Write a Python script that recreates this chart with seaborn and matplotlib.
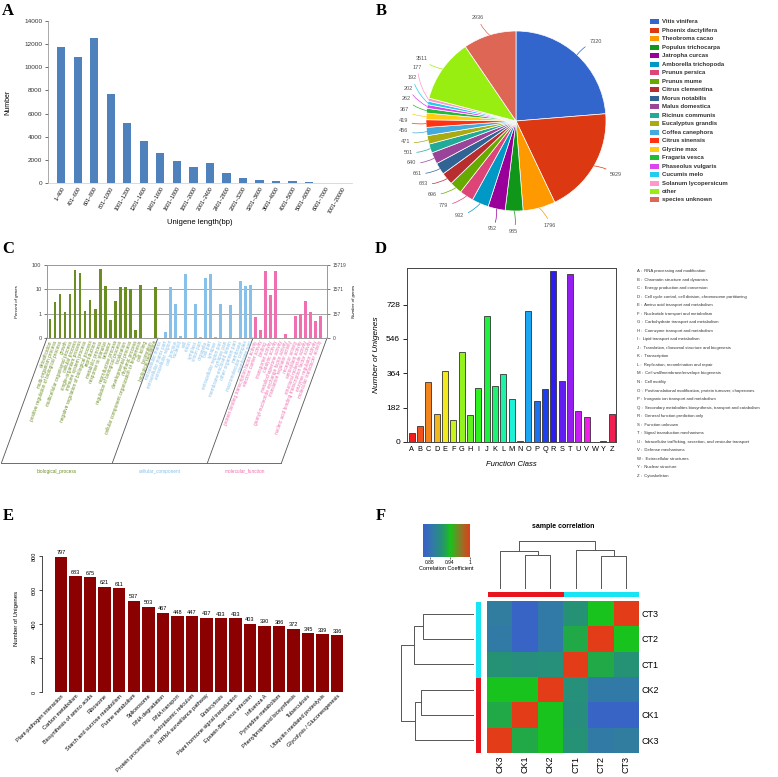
import numpy as np
import pandas as pd
import seaborn as sns
import matplotlib.pyplot as plt
import matplotlib.transforms as mtransforms
from matplotlib.colors import LinearSegmentedColormap, ListedColormap, hsv_to_rgb
from matplotlib.patches import Rectangle
from matplotlib.ticker import NullLocator

plt.rcParams['font.family'] = ['Liberation Sans', 'DejaVu Sans']

# ---------------- data ----------------
# A: unigene length distribution
length_bins = ['1~400', '401~600', '601~800', '801~1000', '1001~1200', '1201~1400',
               '1401~1600', '1601~1800', '1801~2000', '2001~2400', '2401~2800', '2801~3200',
               '3201~3600', '3601~4000', '4001~5000', '5001~6000', '6001~7000', '7001~20000']
length_counts = [11790, 10920, 12500, 7680, 5180, 3620, 2620, 1930, 1380, 1750, 890, 460,
                 290, 200, 140, 60, 30, 25]

# B: species distribution
species = ['Vitis vinifera', 'Phoenix dactylifera', 'Theobroma cacao', 'Populus trichocarpa',
           'Jatropha curcas', 'Amborella trichopoda', 'Prunus persica', 'Prunus mume',
           'Citrus clementina', 'Morus notabilis', 'Malus domestica', 'Ricinus communis',
           'Eucalyptus grandis', 'Coffea canephora', 'Citrus sinensis', 'Glycine max',
           'Fragaria vesca', 'Phaseolus vulgaris', 'Cucumis melo', 'Solanum lycopersicum',
           'other', 'species unknown']
species_counts = [7320, 5929, 1796, 985, 952, 932, 779, 696, 683, 661, 640, 501, 471, 456,
                  419, 367, 262, 202, 192, 177, 3511, 2936]
species_colors = ['#3366cc', '#dc3912', '#ff9900', '#109618', '#990099', '#0099c6', '#dd4477',
                  '#66aa00', '#b82e2e', '#316395', '#994499', '#22aa99', '#aaaa11', '#44aadd',
                  '#ff3311', '#ffcc11', '#22bb33', '#dd44ee', '#22ccee', '#ff99cc', '#99ee11',
                  '#dd6655']

# C: GO classification (percent of genes)
go_bp_terms = ['detoxification', 'multi-organism process', 'positive regulation of biological process',
               'growth', 'multicellular organismal process', 'cellular process',
               'single-organism process', 'immune system process',
               'negative regulation of biological process', 'reproduction', 'metabolic process',
               'response to stimulus', 'behavior', 'reproductive process',
               'regulation of biological process', 'localization', 'developmental process',
               'rhythmic process', 'cellular component organization or biogenesis', 'cell killing',
               'locomotion', 'biological regulation']
go_bp_pct = [0.62, 3.0, 6.6, 1.17, 6.6, 60, 47, 1.33, 3.5, 1.55, 69, 13.3, 0.57, 3.4, 12.5, 12.5,
             10, 0.22, 15.6, 0, 0, 12.5]
go_cc_terms = ['extracellular matrix', 'extracellular matrix part', 'extracellular region',
               'cell junction', 'nucleoid', 'cell', 'virion', 'symplast', 'virion part',
               'organelle', 'cell part', 'synapse', 'extracellular region part', 'synapse part',
               'membrane-enclosed lumen', 'other organism part', 'membrane',
               'macromolecular complex', 'membrane part']
go_cc_pct = [0, 0.18, 12.5, 2.6, 0.125, 43, 0, 2.6, 0.11, 29, 41, 0.11, 2.6, 0, 2.2, 0, 23, 14, 15.6]
go_mf_terms = ['protein binding transcription factor activity', 'electron carrier activity',
               'binding', 'transporter activity', 'catalytic activity', 'metallochaperone activity',
               'guanyl-nucleotide exchange factor activity', 'translation regulator activity',
               'receptor activity', 'antioxidant activity', 'structural molecule activity',
               'nucleic acid binding transcription factor activity', 'enzyme regulator activity',
               'molecular transducer activity']
go_mf_pct = [0.73, 0.22, 55, 6.0, 58, 0, 0.14, 0, 0.83, 1.0, 3.2, 1.13, 0.48, 0.78]
go_total = 15719

# D: COG function classes
cog_class = list('ABCDEFGHIJKLMNOPQRSTUVWYZ')
cog_counts = [49, 83, 316, 147, 375, 118, 479, 143, 286, 670, 299, 359, 226, 7, 694, 219, 281,
              905, 323, 889, 166, 134, 0, 4, 148]
cog_desc = ['RNA processing and modification', 'Chromatin structure and dynamics',
            'Energy production and conversion',
            'Cell cycle control, cell division, chromosome partitioning',
            'Amino acid transport and metabolism', 'Nucleotide transport and metabolism',
            'Carbohydrate transport and metabolism', 'Coenzyme transport and metabolism',
            'Lipid transport and metabolism', 'Translation, ribosomal structure and biogenesis',
            'Transcription', 'Replication, recombination and repair',
            'Cell wall/membrane/envelope biogenesis', 'Cell motility',
            'Posttranslational modification, protein turnover, chaperones',
            'Inorganic ion transport and metabolism',
            'Secondary metabolites biosynthesis, transport and catabolism',
            'General function prediction only', 'Function unknown',
            'Signal transduction mechanisms',
            'Intracellular trafficking, secretion, and vesicular transport',
            'Defense mechanisms', 'Extracellular structures', 'Nuclear structure', 'Cytoskeleton']

# E: top KEGG pathways
kegg_pathways = ['Plant-pathogen interaction', 'Carbon metabolism', 'Biosynthesis of amino acids',
                 'Ribosome', 'Starch and sucrose metabolism', 'Purine metabolism', 'Spliceosome',
                 'RNA degradation', 'RNA transport', 'Protein processing in endoplasmic reticulum',
                 'mRNA surveillance pathway', 'Endocytosis', 'Plant hormone signal transduction',
                 'Epstein-Barr virus infection', 'Influenza A', 'Pyrimidine metabolism',
                 'Phenylpropanoid biosynthesis', 'Tuberculosis', 'Ubiquitin mediated proteolysis',
                 'Glycolysis / Gluconeogenesis']
kegg_counts = [797, 683, 675, 621, 611, 537, 503, 467, 448, 447, 437, 433, 433, 403, 390, 386,
               372, 345, 339, 336]

# F: sample correlation
samples = ['CK3', 'CK1', 'CK2', 'CT1', 'CT2', 'CT3']
sample_groups = ['CK', 'CK', 'CK', 'CT', 'CT', 'CT']
corr = [[1.000, 0.930, 0.940, 0.915, 0.890, 0.893],
        [0.930, 1.000, 0.940, 0.911, 0.866, 0.866],
        [0.940, 0.940, 1.000, 0.913, 0.889, 0.889],
        [0.915, 0.911, 0.913, 1.000, 0.930, 0.915],
        [0.890, 0.866, 0.889, 0.930, 1.000, 0.940],
        [0.893, 0.866, 0.889, 0.915, 0.940, 1.000]]
# merges (a, b, relative height); leaves 0..5, new clusters numbered from 6
sample_merges = [(1, 2, 0.72), (0, 6, 0.80), (4, 5, 0.70), (3, 8, 0.82), (7, 9, 1.00)]

# ---------------- layout helpers ----------------
W, H = 778, 777
fig = plt.figure(figsize=(W / 100, H / 100), dpi=100)


def box(l, t, r, b):
    return [l / W, 1 - b / H, (r - l) / W, (b - t) / H]


def ftext(x, y, s, **kw):
    fig.text(x / W, 1 - y / H, s, **kw)


for letter, (lx, ly) in zip('ABCDEF', [(8, 11), (381, 11), (8, 249), (381, 249), (8, 516), (381, 516)]):
    ftext(lx, ly, letter, fontsize=12, fontweight='bold', family='Liberation Serif',
          ha='center', va='center')

# ---------------- A ----------------
ax = fig.add_axes(box(48, 21, 352, 183))
sns.barplot(x=length_bins, y=length_counts, color='#4f81bd', width=0.5, saturation=1, ax=ax)
ax.set_xlim(-0.8, 17.6)
ax.set_ylim(0, 14000)
ax.set_yticks(range(0, 14001, 2000))
ax.tick_params(axis='y', labelsize=4.6, length=2, width=0.5, colors='#333333', pad=2)
ax.tick_params(axis='x', length=0, pad=2)
ax.set_xticks(range(len(length_bins)))
ax.set_xticklabels(length_bins, rotation=60, ha='right', rotation_mode='anchor', fontsize=3.8)
for s in ['top', 'right']:
    ax.spines[s].set_visible(False)
ax.spines['left'].set_color('#888888')
ax.spines['left'].set_linewidth(0.5)
ax.spines['bottom'].set_color('#cccccc')
ax.spines['bottom'].set_linewidth(0.5)
ax.set_ylabel('Number', fontsize=5)
ax.yaxis.set_label_coords(-0.12, 0.5)
ax.set_xlabel('Unigene length(bp)', fontsize=5.5)
ax.xaxis.set_label_coords(0.5, -0.22)

# ---------------- B ----------------
ax = fig.add_axes(box(366, 1, 666, 241))
wedges, _ = ax.pie(species_counts, colors=species_colors, startangle=90, counterclock=False,
                   radius=1, wedgeprops=dict(edgecolor='white', linewidth=0.5))
ax.set_xlim(-150 / 90, 150 / 90)
ax.set_ylim(-120 / 90, 120 / 90)
mids = np.deg2rad([(w.theta1 + w.theta2) / 2 for w in wedges])
lab_r = 1.2
lx = lab_r * np.cos(mids)
ly = lab_r * np.sin(mids)
# spread the small slices on the left so the labels do not collide
gap = 0.118
for i in range(5, 20):
    ly[i] = max(ly[i], ly[i - 1] + gap)
for i in range(4, 20):
    lx[i] = -np.sqrt(max(lab_r ** 2 - ly[i] ** 2, 0.04))
for i, w in enumerate(wedges):
    ex, ey = np.cos(mids[i]), np.sin(mids[i])
    ha = 'left' if lx[i] > 0.3 else ('right' if lx[i] < -0.3 else 'center')
    va = 'top' if (ha == 'center' and ly[i] < 0) else 'center'
    ax.annotate(f'{species_counts[i]}', xy=(ex, ey), xytext=(lx[i], ly[i]), fontsize=4,
                color='#555555', ha=ha, va=va,
                arrowprops=dict(arrowstyle='-', color=species_colors[i], lw=0.5,
                                shrinkA=1, shrinkB=0, connectionstyle='arc3,rad=0.15'))
for i, (name, c) in enumerate(zip(species, species_colors)):
    y = 21.7 + i * 8.49
    fig.add_artist(Rectangle((650 / W, 1 - (y + 2.5) / H), 9 / W, 5 / H, facecolor=c,
                             edgecolor='none', transform=fig.transFigure))
    ftext(662, y, name, fontsize=4.3, fontweight='bold', color='#333333', va='center')

# ---------------- C ----------------
go_terms = go_bp_terms + go_cc_terms + go_mf_terms
go_pct = go_bp_pct + go_cc_pct + go_mf_pct
go_groups = (['biological_process'] * len(go_bp_terms) + ['cellular_component'] * len(go_cc_terms)
             + ['molecular_function'] * len(go_mf_terms))
go_palette = {'biological_process': '#6b8e23', 'cellular_component': '#87c1ea',
              'molecular_function': '#ef6fb0'}
df_go = pd.DataFrame({'term': go_terms, 'pct': go_pct, 'group': go_groups})
ax = fig.add_axes(box(47, 265, 327, 338))
sns.barplot(data=df_go, x='term', y='pct', hue='group', palette=go_palette, dodge=False,
            width=0.45, saturation=1, legend=False, ax=ax)
ax.set_yscale('log')
ax.set_ylim(0.1, 100)
ax.set_xlim(-0.67, 55.3)
ax.yaxis.set_minor_locator(NullLocator())
ax.set_yticks([0.1, 1, 10, 100])
ax.set_yticklabels(['0', '1', '10', '100'])
ax.set_xticks([])
ax.set_xlabel('')
ax.set_ylabel('Percent of genes', fontsize=3.2, style='italic')
ax.yaxis.set_label_coords(-0.1, 0.5)
ax.tick_params(axis='y', labelsize=4, length=2, width=0.5, colors='#444444', pad=2)
for v in (1, 10):
    ax.axhline(v, color='#999999', lw=0.6, zorder=0)
for s in ax.spines.values():
    s.set_color('#999999')
    s.set_linewidth(0.6)
ax2 = ax.twinx()
ax2.set_yscale('log')
ax2.set_ylim(0.1, 100)
ax2.yaxis.set_minor_locator(NullLocator())
ax2.set_yticks([0.1, 1, 10, 100])
ax2.set_yticklabels(['0'] + [str(int(go_total * v / 100)) for v in (1, 10, 100)])
ax2.tick_params(axis='y', labelsize=3.5, length=2, width=0.5, colors='#444444', pad=2)
ax2.set_ylabel('Number of genes', fontsize=3.2, style='italic')
for s in ax2.spines.values():
    s.set_color('#999999')
    s.set_linewidth(0.6)
trans = mtransforms.blended_transform_factory(ax.transData, ax.transAxes)
for i, (t, g) in enumerate(zip(go_terms, go_groups)):
    ax.text(i + 0.1, -0.04, t, rotation=70, ha='right', va='center', rotation_mode='anchor',
            fontsize=3.4, color=go_palette[g], transform=trans)
shift, depth = -9.1, -1.71
n_bp, n_cc = len(go_bp_terms), len(go_cc_terms)
edges = [-0.67, n_bp - 0.5, n_bp + n_cc - 0.5, 55.3]
for xe in edges:
    ax.plot([xe, xe + shift], [0, depth], color='#555555', lw=0.6, transform=trans, clip_on=False)
ax.plot([edges[0] + shift, edges[-1] + shift], [depth, depth], color='#555555', lw=0.6,
        transform=trans, clip_on=False)
for k, g in enumerate(go_palette):
    mid = (edges[k] + edges[k + 1]) / 2 + shift
    ax.text(mid, depth - 0.08, g, fontsize=3.4, color=go_palette[g], ha='center', va='top',
            transform=trans)

# ---------------- D ----------------
cog_colors = [hsv_to_rgb((i / 25, 0.88, 0.95)) for i in range(25)]
ax = fig.add_axes(box(407, 268, 616, 442))
sns.barplot(x=cog_class, y=cog_counts, hue=cog_class, palette=cog_colors, legend=False,
            width=0.72, edgecolor='#333333', linewidth=0.6, saturation=1, ax=ax)
ax.set_xlim(-0.57, 24.5)
ax.set_ylim(0, 922)
ax.set_yticks([0, 182, 364, 546, 728])
ax.tick_params(axis='y', labelsize=6, length=3, width=0.6, pad=2)
ax.tick_params(axis='x', labelsize=5.3, length=0, pad=3)
ax.set_xlabel('Function Class', fontsize=5.5, style='italic', labelpad=6)
ax.set_ylabel('Number of Unigenes', fontsize=6, style='italic', labelpad=4)
for s in ax.spines.values():
    s.set_color('#444444')
    s.set_linewidth(0.7)
for i, (c, d) in enumerate(zip(cog_class, cog_desc)):
    ftext(637, 271 + i * 8.54, f'{c} :  {d}', fontsize=3.1, color='#333333', va='center')

# ---------------- E ----------------
ax = fig.add_axes(box(42, 551, 345, 692))
sns.barplot(x=kegg_pathways, y=kegg_counts, color='#8b0000', width=0.86, saturation=1, ax=ax)
ax.set_xlim(-1.32, 19.55)
ax.set_ylim(0, 830)
ax.bar_label(ax.containers[0], fontsize=4, padding=1)
ax.set_yticks(range(0, 801, 200))
ax.set_yticklabels([str(v) for v in range(0, 801, 200)], rotation=90, va='center')
ax.tick_params(axis='y', labelsize=4, length=2.5, width=0.5, pad=1.5)
ax.tick_params(axis='x', length=0, pad=1)
ax.set_xticks(range(len(kegg_pathways)))
ax.set_xticklabels(kegg_pathways, rotation=45, ha='right', rotation_mode='anchor', fontsize=4)
for s in ['top', 'right', 'bottom']:
    ax.spines[s].set_visible(False)
ax.spines['left'].set_bounds(0, 800)
ax.spines['left'].set_linewidth(0.5)
ax.set_ylabel('Number of Unigenes', fontsize=4.3)
ax.yaxis.set_label_coords(-0.075, 0.52)

# ---------------- F ----------------
corr_df = pd.DataFrame(corr, index=samples, columns=samples)
row_order = samples[::-1]
hm_df = corr_df.loc[row_order, samples]
cmap = LinearSegmentedColormap.from_list('corr', [
    (0.0, '#3a5fcd'), (0.2, '#3278a8'), (0.38, '#26907a'), (0.5, '#22a848'),
    (0.57, '#16c41c'), (0.8, '#8a7a28'), (1.0, '#e23c18')])
ax_hm = fig.add_axes(box(487, 601, 639, 753))
cax = fig.add_axes(box(423, 524, 470, 557))
sns.heatmap(hm_df, cmap=cmap, vmin=0.86, vmax=1.0, ax=ax_hm, cbar_ax=cax,
            cbar_kws={'orientation': 'horizontal', 'ticks': [0.88, 0.94, 1.0]})
ax_hm.yaxis.tick_right()
ax_hm.set_yticklabels(row_order, rotation=0, fontsize=6.5)
ax_hm.set_xticklabels(samples, rotation=90, fontsize=6.5)
ax_hm.tick_params(length=0, pad=2)
ax_hm.set_xlabel('')
ax_hm.set_ylabel('')
cbar = ax_hm.collections[0].colorbar
cbar.outline.set_visible(False)
cbar.set_ticklabels(['0.88', '0.94', '1'])
cax.tick_params(labelsize=3.5, length=1.5, width=0.4, pad=1)
cax.set_xlabel('Correlation Coefficient', fontsize=4, labelpad=0.5)
ftext(563, 527, 'sample correlation', fontsize=5, fontweight='bold', ha='center', va='center')

group_cmap = ListedColormap(['#e8141e', '#18e4f4'])
col_codes = [[0 if g == 'CK' else 1 for g in sample_groups]]
row_groups = [sample_groups[samples.index(s)] for s in row_order]
row_codes = [[0 if g == 'CK' else 1] for g in row_groups]
ax_cb = fig.add_axes(box(488, 592, 639, 597))
sns.heatmap(col_codes, cmap=group_cmap, vmin=0, vmax=1, cbar=False, ax=ax_cb,
            xticklabels=False, yticklabels=False)
ax_rb = fig.add_axes(box(476, 602, 481, 753))
sns.heatmap(row_codes, cmap=group_cmap, vmin=0, vmax=1, cbar=False, ax=ax_rb,
            xticklabels=False, yticklabels=False)


def dendro_segments(merges, leaf_pos):
    pos = dict(leaf_pos)
    height = {k: 0.0 for k in leaf_pos}
    n = len(leaf_pos)
    segs = []
    for k, (a, b, h) in enumerate(merges):
        segs.append(([pos[a], pos[a], pos[b], pos[b]], [height[a], h, h, height[b]]))
        pos[n + k] = (pos[a] + pos[b]) / 2
        height[n + k] = h
    return segs


ax_cd = fig.add_axes(box(487, 541, 639, 589))
for xs, hs in dendro_segments(sample_merges, {i: i + 0.5 for i in range(6)}):
    ax_cd.plot(xs, hs, color='#555555', lw=0.7)
ax_cd.set_xlim(0, 6)
ax_cd.set_ylim(0, 1.01)
ax_cd.axis('off')

ax_rd = fig.add_axes(box(400, 601, 474, 753))
leaf_rows = {i: row_order.index(s) + 0.5 for i, s in enumerate(samples)}
for ys, hs in dendro_segments(sample_merges, leaf_rows):
    ax_rd.plot(hs, ys, color='#555555', lw=0.7)
ax_rd.set_xlim(1.01, 0)
ax_rd.set_ylim(6, 0)
ax_rd.axis('off')

fig.savefig('out.png', dpi=100)
